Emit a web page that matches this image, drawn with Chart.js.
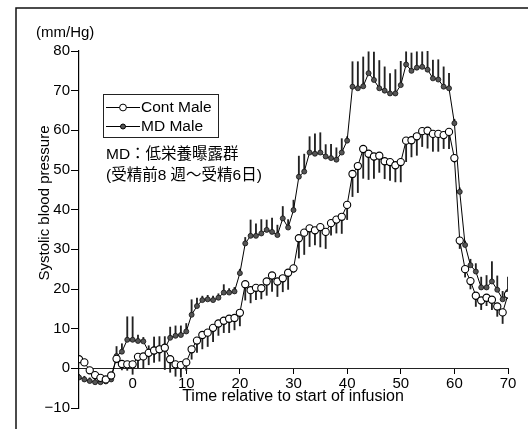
<!DOCTYPE html>
<html>
<head>
<meta charset="utf-8">
<script src="https://cdn.jsdelivr.net/npm/chart.js@4.4.1/dist/chart.umd.min.js"></script>
<style>
  html, body { margin: 0; padding: 0; background: #fff; }
  canvas { display: block; }
</style>
</head>
<body>
<canvas id="bp" width="528" height="429"></canvas>
<script>
// Temps (relatif au début de la perfusion)
var times = [
  -10, -9, -8, -7, -6, -5, -4, -3, -2, -1,
  0, 1, 2, 3, 4, 5, 6, 7, 8, 9,
  10, 11, 12, 13, 14, 15, 16, 17, 18, 19,
  20, 21, 22, 23, 24, 25, 26, 27, 28, 29,
  30, 31, 32, 33, 34, 35, 36, 37, 38, 39,
  40, 41, 42, 43, 44, 45, 46, 47, 48, 49,
  50, 51, 52, 53, 54, 55, 56, 57, 58, 59,
  60, 61, 62, 63, 64, 65, 66, 67, 68, 69,
  70
];

// Cont Male (cercles ouverts)
var contMale = [
  2.3, 1.5, -0.5, -1.7, -2.4, -2.8, -1.8, 2.4, 1.1, 1.0,
  1.0, 2.9, 3.0, 3.9, 4.5, 4.8, 5.2, 2.3, 1.0, 0.8,
  1.5, 4.8, 7.0, 8.4, 9.0, 10.2, 11.3, 12.0, 12.5, 12.7,
  14.0, 21.2, 19.7, 20.3, 20.2, 21.9, 23.4, 21.9, 22.7, 24.1,
  25.2, 32.8, 34.2, 35.3, 34.8, 35.6, 34.4, 36.6, 37.5, 38.2,
  41.2, 49.0, 51.0, 55.3, 54.1, 53.4, 53.6, 52.2, 52.0, 51.2,
  52.0, 57.4, 57.5, 58.5, 59.8, 59.9, 59.1, 59.1, 58.8, 59.6,
  53.0, 32.2, 25.0, 22.0, 18.3, 17.1, 17.8, 17.3, 15.6, 14.1,
  18.6
];
var contErr = [
  0.8, 0.8, 0.8, 0.8, 0.8, 0.8, 0.8, 1.0, 1.5, 1.5,
  2.5, 3.0, 3.0, 3.0, 3.0, 3.0, 5.5, 3.3, 3.0, 3.0,
  2.0, 2.5, 3.0, 3.5, 3.5, 3.5, 3.0, 3.0, 3.5, 3.0,
  3.3, 4.0, 3.2, 3.0, 2.7, 3.5, 4.0, 3.8, 3.4, 4.2,
  1.0, 5.0, 5.5, 4.6, 3.7, 5.0, 4.2, 3.0, 3.4, 4.2,
  3.7, 5.7, 6.7, 7.4, 6.5, 5.5, 4.2, 4.4, 4.6, 4.2,
  5.0, 5.3, 4.2, 4.8, 3.9, 4.4, 4.4, 4.4, 3.4, 4.2,
  1.0, 2.0, 2.0, 2.0, 2.7, 2.3, 2.0, 2.5, 2.5, 2.8,
  1.0
];

// MD Male (cercles pleins)
var mdMale = [
  -2.3, -2.8, -3.2, -3.5, -3.5, -3.3, -2.8, 3.1, 4.2, 7.2,
  7.2, 6.9, 6.8, 4.2, 4.4, 5.0, 5.0, 7.7, 8.2, 8.4,
  9.3, 13.5, 15.7, 17.2, 17.4, 17.2, 17.8, 19.1, 19.1, 19.4,
  24.0, 31.5, 33.4, 33.4, 34.0, 34.9, 34.4, 33.6, 37.8, 35.5,
  39.9, 48.3, 49.6, 54.4, 54.1, 54.4, 53.4, 53.0, 52.6, 54.4,
  57.4, 71.0, 70.6, 71.1, 74.4, 72.7, 70.6, 70.0, 69.3, 69.3,
  71.4, 76.6, 75.0, 75.8, 76.0, 75.3, 73.1, 72.8, 71.0, 70.6,
  61.8, 44.5, 31.1, 26.0, 24.4, 20.4, 20.4, 21.9, 19.8, 17.4,
  19.3
];
var mdErr = [
  0.8, 0.8, 0.8, 0.8, 0.8, 0.8, 0.8, 2.4, 2.0, 5.8,
  5.8, 1.5, 1.0, 1.5, 3.5, 3.0, 3.0, 2.7, 2.5, 2.3,
  2.0, 3.8, 2.0, 1.0, 1.0, 1.0, 1.0, 2.0, 1.0, 1.0,
  1.0, 1.5, 4.0, 3.0, 3.5, 2.5, 3.5, 2.5, 3.0, 2.0,
  2.5, 5.2, 4.4, 4.0, 5.0, 5.0, 3.0, 3.5, 3.0, 3.5,
  1.0, 6.3, 6.7, 7.4, 5.4, 7.0, 7.0, 6.0, 5.0, 6.0,
  6.0, 3.2, 4.5, 4.0, 3.8, 4.8, 4.6, 5.0, 5.0, 3.8,
  1.0, 1.0, 1.0, 1.5, 2.0, 2.6, 3.0, 5.0, 3.5, 2.0,
  3.7
];

// Graduations
var xTicks = [0, 10, 20, 30, 40, 50, 60, 70];
var yTicks = [-10, 0, 10, 20, 30, 40, 50, 60, 70, 80];
var yTickLabels = ['\u221210', '0', '10', '20', '30', '40', '50', '60', '70', '80'];

var FONT = '"Liberation Sans", Arial, "Noto Sans CJK JP", sans-serif';

/* Cadre, légende et textes */
var decor = {
    id: 'decor',
    afterDraw: function (chart) {
        var ctx = chart.ctx;
        ctx.save();

        // cadre de la figure
        ctx.strokeStyle = '#111';
        ctx.lineWidth = 1.5;
        ctx.beginPath();
        ctx.moveTo(16, 429);
        ctx.lineTo(16, 8);
        ctx.lineTo(528, 8);
        ctx.stroke();

        ctx.fillStyle = '#000';
        ctx.textBaseline = 'middle';

        // unité
        ctx.font = '15px ' + FONT;
        ctx.textAlign = 'left';
        ctx.fillText('(mm/Hg)', 36, 33);

        // titre de l'axe X
        ctx.font = '16px ' + FONT;
        ctx.textAlign = 'center';
        ctx.fillText('Time relative to start of infusion', 293, 397);

        // titre de l'axe Y
        ctx.save();
        ctx.translate(45, 203);
        ctx.rotate(-Math.PI / 2);
        ctx.font = '15px ' + FONT;
        ctx.fillText('Systolic blood pressure', 0, 0);
        ctx.restore();

        // boîte de légende
        ctx.lineWidth = 1;
        ctx.strokeStyle = '#222';
        ctx.strokeRect(103.5, 94.5, 115, 43);

        ctx.beginPath();
        ctx.moveTo(106, 107.5); ctx.lineTo(140, 107.5);
        ctx.moveTo(106, 126.5); ctx.lineTo(140, 126.5);
        ctx.strokeStyle = '#000';
        ctx.stroke();

        ctx.beginPath();
        ctx.arc(123, 107.5, 3.4, 0, Math.PI * 2);
        ctx.fillStyle = '#fff';
        ctx.fill();
        ctx.stroke();

        ctx.beginPath();
        ctx.arc(123, 126.5, 2.5, 0, Math.PI * 2);
        ctx.fillStyle = '#555';
        ctx.fill();
        ctx.stroke();

        ctx.fillStyle = '#000';
        ctx.textAlign = 'left';
        ctx.font = '15.5px ' + FONT;
        ctx.fillText('Cont Male', 141, 107.5);
        ctx.fillText('MD Male', 141, 126.5);

        // annotation
        ctx.fillText('MD\uFF1A低栄養曝露群', 106, 155);
        ctx.fillText('(受精前8 週\uFF5E受精6日)', 106, 176);

        ctx.restore();
    }
};

var ctx = document.getElementById('bp').getContext('2d');

var chartBP = new Chart(ctx, {
    type: 'line',
    data: {
        datasets: [{
            type: 'line',
            label: 'Cont Male',
            data: times.map(function (t, i) { return { x: t, y: contMale[i] }; }),
            borderColor: '#000',
            borderWidth: 1,
            pointRadius: 3.6,
            pointBackgroundColor: '#fff',
            pointBorderColor: '#000',
            pointBorderWidth: 1.1,
            order: 0
        }, {
            type: 'line',
            label: 'MD Male',
            data: times.map(function (t, i) { return { x: t, y: mdMale[i] }; }),
            borderColor: '#000',
            borderWidth: 1,
            pointRadius: 2.5,
            pointBackgroundColor: '#555',
            pointBorderColor: '#111',
            pointBorderWidth: 0.8,
            order: 1
        }, {
            type: 'bar',
            label: 'Cont SEM',
            data: times.map(function (t, i) { return { x: t, y: [contMale[i] - contErr[i], contMale[i]] }; }),
            backgroundColor: '#222',
            barThickness: 1.2,
            grouped: false,
            order: 2
        }, {
            type: 'bar',
            label: 'MD SEM',
            data: times.map(function (t, i) { return { x: t, y: [mdMale[i], mdMale[i] + mdErr[i]] }; }),
            backgroundColor: '#222',
            barThickness: 1.2,
            grouped: false,
            order: 3
        }]
    },
    options: {
        responsive: false,
        animation: false,
        layout: { padding: { top: 51, right: 20, bottom: 21, left: 0 } },
        plugins: {
            legend: { display: false },
            tooltip: { enabled: false }
        },
        scales: {
            x: {
                type: 'linear',
                min: -10,
                max: 70,
                offset: false,
                position: { y: 0 },
                afterFit: function (scale) { scale.height = 0; },
                afterBuildTicks: function (scale) {
                    scale.ticks = xTicks.map(function (v) { return { value: v }; });
                },
                ticks: {
                    autoSkip: false,
                    maxRotation: 0,
                    padding: 2,
                    color: '#000',
                    font: { family: FONT, size: 15 }
                },
                grid: { drawOnChartArea: false, offset: false, tickLength: 5, color: '#000' },
                border: { color: '#222', width: 1 }
            },
            y: {
                min: -10,
                max: 80,
                afterFit: function (scale) { scale.width = 79; },
                afterBuildTicks: function (scale) {
                    scale.ticks = yTicks.map(function (v) { return { value: v }; });
                },
                ticks: {
                    padding: 1,
                    color: '#000',
                    font: { family: FONT, size: 15 },
                    callback: function (v, i) { return yTickLabels[i]; }
                },
                grid: { drawOnChartArea: false, tickLength: 8, color: '#000' },
                border: { color: '#000', width: 1.2 }
            }
        }
    },
    plugins: [decor]
});
</script>
</body>
</html>
